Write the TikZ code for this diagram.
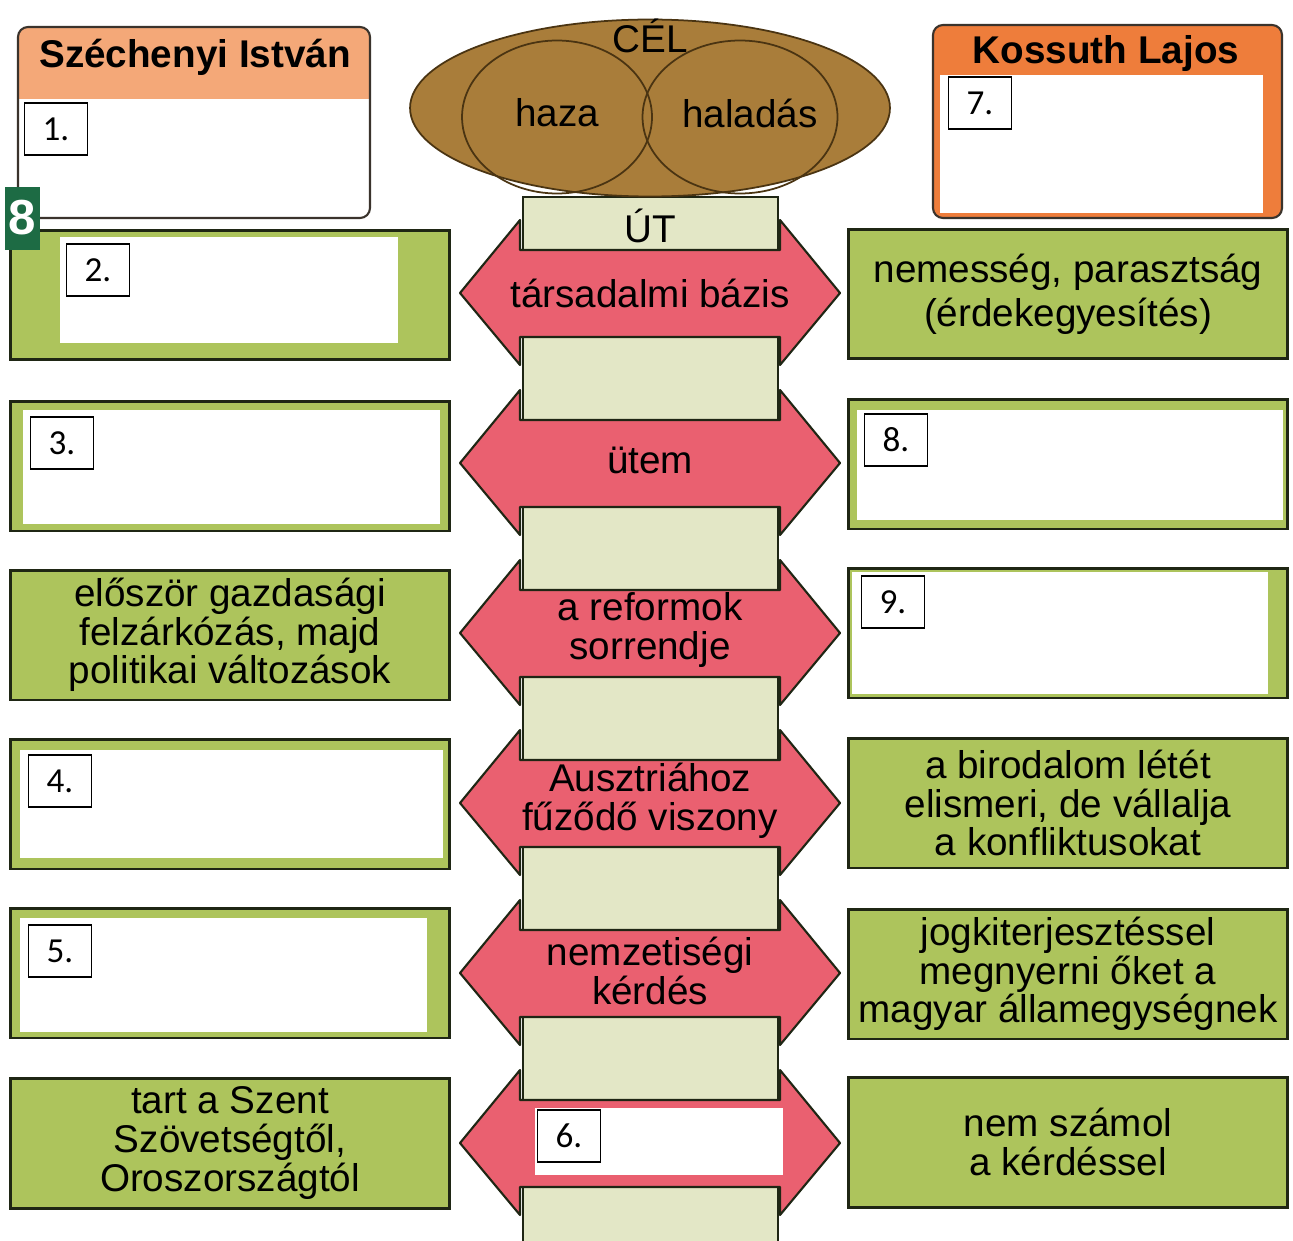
\documentclass[tikz,border=0pt]{standalone}
\usepackage{fontspec}
\setmainfont{Liberation Sans}
\newfontfamily\numfont{Carlito}
\usetikzlibrary{shapes.geometric}
\definecolor{boxgreen}{HTML}{ADC45C}
\definecolor{boxline}{HTML}{1F2614}
\definecolor{road}{HTML}{E3E7C6}
\definecolor{arrowred}{HTML}{EA6070}
\definecolor{goalbrown}{HTML}{A97D3A}
\definecolor{goalline}{HTML}{4A3412}
\definecolor{orangelight}{HTML}{F4A878}
\definecolor{orangedark}{HTML}{EE7D3B}
\definecolor{headline}{HTML}{3A332C}
\definecolor{markgreen}{HTML}{1D6B44}

\begin{document}
\begin{tikzpicture}[x=0.02cm,y=-0.02cm]
    \tikzstyle{every node}=[font=\fontsize{22}{22}\selectfont, align=center]
    \tikzstyle{greenbox}=[draw=boxline, line width=1.7pt, fill=boxgreen, minimum width=8.8cm, minimum height=2.6cm, inner sep=0pt]
    \tikzstyle{numbox}=[draw=black, line width=0.8pt, fill=white, minimum width=1.26cm, minimum height=1.04cm, inner sep=0pt, font=\numfont\fontsize{20}{20}\selectfont]
    \tikzstyle{goal}=[ellipse, draw=goalline, line width=1pt, inner sep=0pt]
    \tikzstyle{arrowpart}=[fill=arrowred, draw=boxline, line width=1.2pt, line join=round]

    \useasboundingbox (0,0) rectangle (1293,1240);
    \fill[white] (0,0) rectangle (1293,1240);

    % the road in the middle
    \draw[fill=road, draw=boxline, line width=1.2pt] (523,197) rectangle (778,1260);
    \node (ut) at (650,226) {ÚT};

    % double arrows
    \foreach \c in {293,463,633,803,973,1143}
        \draw[arrowpart] (460,\c) -- (520,\c-73) -- (520,\c-43) -- (780,\c-43) -- (780,\c-73)
            -- (840,\c) -- (780,\c+72) -- (780,\c+44) -- (520,\c+44) -- (520,\c+72) -- cycle;
    \node (bazis) at (650,293) {társadalmi bázis};
    \node (utem) at (650,460) {ütem};
    \node (sorrend) at (650,630) {a reformok\\sorrendje};
    \node (ausztria) at (650,801) {Ausztriához\\fűződő viszony};
    \node (nemzet) at (650,971) {nemzetiségi\\kérdés};
    \fill[white] (535,1108) rectangle (783,1175);
    \node[numbox] (n6) at (569,1136) {6.};

    % the goal
    \node[goal, fill=goalbrown, minimum width=9.6cm, minimum height=3.54cm] (cel) at (650,108) {};
    \node[goal, minimum width=3.8cm, minimum height=3.06cm] (hazakor) at (557,117) {};
    \node[goal, minimum width=3.9cm, minimum height=3.06cm] (haladaskor) at (740,117) {};
    \node (celtext) at (650,36) {CÉL};
    \node (haza) at (557,113) {haza};
    \node (haladas) at (750,113) {haladás};

    % Szechenyi header
    \begin{scope}
        \clip[rounded corners=0.2cm] (18,27) rectangle (370,218);
        \fill[white] (18,27) rectangle (370,218);
        \fill[orangelight] (18,27) rectangle (370,99);
    \end{scope}
    \draw[rounded corners=0.2cm, draw=headline, line width=1.2pt] (18,27) rectangle (370,218);
    \node[font=\bfseries\fontsize{22}{22}\selectfont] (szechenyi) at (195,57) {Széchenyi István};
    \node[numbox] (n1) at (56,129) {1.};

    % Kossuth header
    \draw[rounded corners=0.2cm, draw=headline, line width=1.2pt, fill=orangedark] (933,25) rectangle (1282,218);
    \fill[white] (940,75) rectangle (1263,213);
    \node[font=\bfseries\fontsize{22}{22}\selectfont] (kossuth) at (1106,54) {Kossuth Lajos};
    \node[numbox] (n7) at (980,103) {7.};

    % Szechenyi side
    \node[greenbox] (sz1) at (230,295) {};
    \fill[white] (60,237) rectangle (398,343);
    \node[numbox] (n2) at (98,270) {2.};
    \node[greenbox] (sz2) at (230,466) {};
    \fill[white] (23,410) rectangle (440,524);
    \node[numbox] (n3) at (62,443) {3.};
    \node[greenbox] (sz3) at (230,635) {először gazdasági\\felzárkózás, majd\\politikai változások};
    \node[greenbox] (sz4) at (230,804) {};
    \fill[white] (20,750) rectangle (443,858);
    \node[numbox] (n4) at (60,781) {4.};
    \node[greenbox] (sz5) at (230,973) {};
    \fill[white] (20,918) rectangle (427,1032);
    \node[numbox] (n5) at (60,951) {5.};
    \node[greenbox] (sz6) at (230,1143) {tart a Szent\\Szövetségtől,\\Oroszországtól};

    % Kossuth side
    \node[greenbox, font=\fontsize{22}{25}\selectfont] (ko1) at (1068,294) {nemesség, parasztság\\(érdekegyesítés)};
    \node[greenbox] (ko2) at (1068,464) {};
    \fill[white] (857,410) rectangle (1283,520);
    \node[numbox] (n8) at (896,440) {8.};
    \node[greenbox] (ko3) at (1068,633) {};
    \fill[white] (852,572) rectangle (1268,694);
    \node[numbox] (n9) at (893,602) {9.};
    \node[greenbox] (ko4) at (1068,803) {a birodalom létét\\elismeri, de vállalja\\a konfliktusokat};
    \node[greenbox] (ko5) at (1068,974) {jogkiterjesztéssel\\megnyerni őket a\\magyar államegységnek};
    \node[greenbox] (ko6) at (1068,1142) {nem számol\\a kérdéssel};

    % page marker
    \fill[markgreen] (5,187) rectangle (40,250);
    \node[text=white, font=\bfseries\fontsize{28}{28}\selectfont] (marker) at (22,218) {8};
\end{tikzpicture}
\end{document}
